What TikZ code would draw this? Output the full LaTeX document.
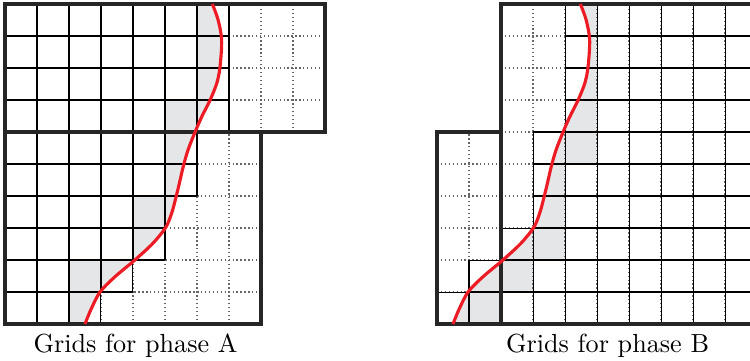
\documentclass[tikz,border=0pt]{standalone}
\definecolor{cutgray}{RGB}{229,230,232}
\definecolor{ifred}{RGB}{237,28,36}
\newcommand{\interfacecurve}{plot[smooth] coordinates {(6.48,10) (6.66,9.5) (6.77,8.875) (6.72,8.04) (6.62,7.53) (6.41,7) (6.15,6.48) (5.94,6) (5.72,5.44) (5.57,4.92) (5.45,4.4) (5.34,3.95) (5.22,3.5) (5.03,3.03) (4.63,2.53) (4.06,2) (3.44,1.48) (2.97,1) (2.68,0.44) (2.5,0)}}
\begin{document}
\begin{tikzpicture}[x=0.43cm,y=0.43cm,step=1,
    cutcell/.style={fill=cutgray},
    ghost/.style={black!60,line width=0.5pt,dash pattern=on 0.5pt off 1pt},
    fine/.style={black,line width=0.4pt},
    patch/.style={black!85,line width=1.2pt},
    interface/.style={ifred,line width=1.2pt}]
    \useasboundingbox (-0.156,-1.125) rectangle (23.28,10.125);
    % phase A
    \fill[cutcell] \interfacecurve -- (2,0) -- (2,2) -- (4,2) -- (4,4) -- (5,4) -- (5,7) -- (6,7) -- (6,10) -- cycle;
    \draw[ghost] (0,0) grid (8,6) (0,6) grid (10,10);
    \draw[fine] (0,0) grid (3,1) (0,1) grid (4,2) (0,2) grid (5,4) (0,4) grid (6,6) (0,6) grid (7,10);
    \draw[patch] (0,0) rectangle (8,6) (0,6) rectangle (10,10);
    \draw[interface] \interfacecurve;
    \node[anchor=base] (labA) at (4.08,-0.906) {Grids for phase A};
    % phase B
    \begin{scope}[shift={(11.5,0)}]
        \fill[cutcell] \interfacecurve -- (4,0) -- (4,1) -- (5,1) -- (5,2) -- (6,2) -- (6,5) -- (7,5) -- (7,10) -- cycle;
        \draw[ghost] (2,0) grid (4,6) (4,0) grid (12,10);
        \draw[fine] (2,0) grid (12,1) (3,1) grid (12,2) (4,2) grid (12,3) (5,3) grid (12,6) (6,6) grid (12,10);
        \draw[patch] (2,0) rectangle (4,6) (4,0) rectangle (12,10);
        \draw[interface] \interfacecurve;
        \node[anchor=base] (labB) at (7.33,-0.906) {Grids for phase B};
    \end{scope}
\end{tikzpicture}
\end{document}
